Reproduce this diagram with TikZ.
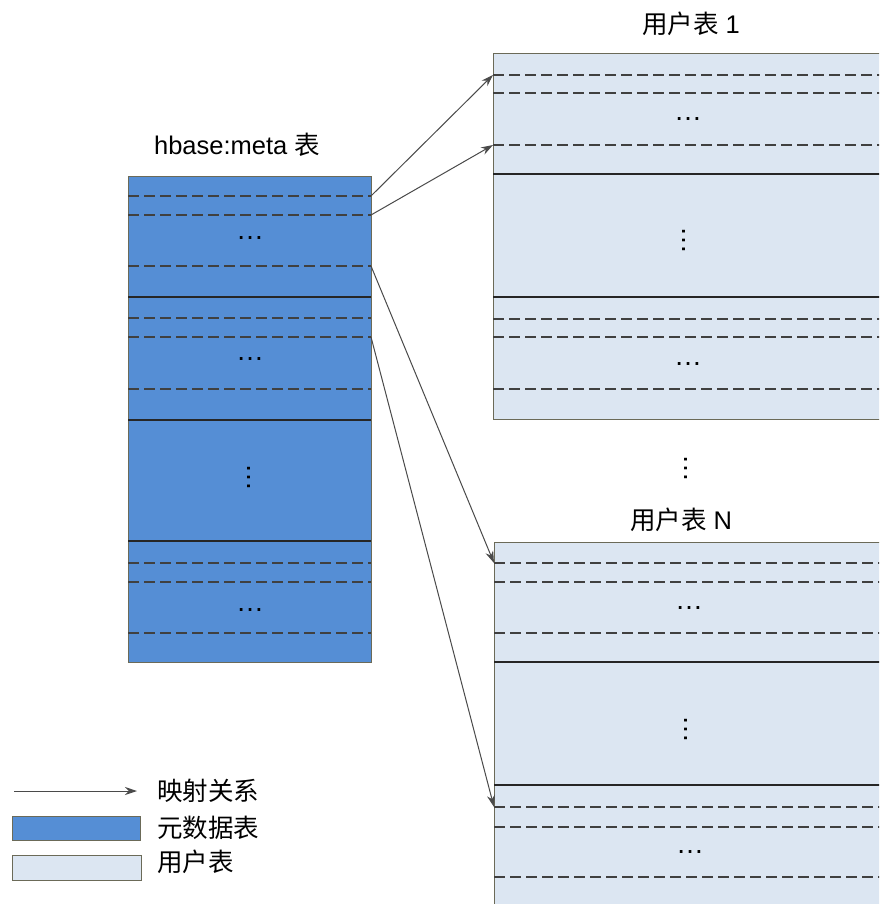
\documentclass[tikz,border=0pt]{standalone}
\usepackage{fontspec}
\setmainfont{Liberation Sans}
\newfontfamily\cjk{Noto Sans CJK SC}
\usetikzlibrary{arrows.meta}
\definecolor{metablue}{HTML}{558ED5}
\definecolor{userblue}{HTML}{DCE6F2}
\definecolor{edgegray}{HTML}{6B6A58}
\definecolor{arrowgray}{HTML}{4A4A4A}
\begin{document}
\begin{tikzpicture}[x=1pt,y=-1pt,
  tab/.style={draw=edgegray, line width=1.1pt, anchor=north west, inner sep=0pt},
  metatab/.style={tab, fill=metablue},
  usertab/.style={tab, fill=userblue},
  sep/.style={line width=1.3pt, draw=black!85},
  dsep/.style={line width=1.3pt, draw=black!75, dash pattern=on 11pt off 5pt},
  map/.style={draw=arrowgray, line width=1pt, -{Stealth[length=12pt,width=8pt]}},
  lbl/.style={font=\fontsize{25.5}{30}\selectfont, inner sep=0pt},
  hdots/.style={font=\fontsize{28}{32}\selectfont, inner sep=0pt, anchor=base},
  vdots/.style={font=\fontsize{28}{32}\selectfont, inner sep=0pt, anchor=base, rotate=90}
]
\clip (0,0) rectangle (879,904);
\fill[white] (0,0) rectangle (879,904);

% ---- hbase:meta table
\node[lbl, anchor=base] (metatitle) at (237,155) {hbase:meta {\cjk 表}};
\node[metatab, minimum width=243pt, minimum height=486pt] (meta) at (128,176) {};
\foreach \yy in {297,420,541} \draw[sep] (128,\yy) -- (371,\yy);
\foreach \yy in {196,215,266,318,337,389,563,582,633} \draw[dsep] (128,\yy) -- (371,\yy);
\node[hdots] (md1) at (250,239) {…};
\node[hdots] (md2) at (250,360) {…};
\node[vdots] (md3) at (250,477) {…};
\node[hdots] (md4) at (250,611) {…};

% ---- user table 1
\node[lbl, anchor=base] (u1title) at (691,34) {{\cjk 用户表} 1};
\node[usertab, minimum width=400pt, minimum height=366pt] (u1) at (493,53) {};
\foreach \yy in {174,297} \draw[sep] (493,\yy) -- (893,\yy);
\foreach \yy in {75,93,145,319,337,389} \draw[dsep] (493,\yy) -- (893,\yy);
\node[hdots] (ud1) at (688,121) {…};
\node[vdots] (ud2) at (685,240) {…};
\node[hdots] (ud3) at (688,365) {…};

% ---- gap dots
\node[vdots] (gap) at (687,468) {…};

% ---- user table N
\node[lbl, anchor=base] (uNtitle) at (681,529) {{\cjk 用户表} N};
\node[usertab, minimum width=400pt, minimum height=378pt] (uN) at (494,542) {};
\foreach \yy in {662,785} \draw[sep] (494,\yy) -- (894,\yy);
\foreach \yy in {563,582,633,807,827,877} \draw[dsep] (494,\yy) -- (894,\yy);
\node[hdots] (nd1) at (689,609) {…};
\node[vdots] (nd2) at (687,729) {…};
\node[hdots] (nd3) at (690,853) {…};

% ---- mapping arrows
\coordinate (a1) at (371,196); \coordinate (b1) at (493,75);
\coordinate (a2) at (371,215); \coordinate (b2) at (493,145);
\coordinate (a3) at (371,266); \coordinate (b3) at (494,563);
\coordinate (a4) at (371,337); \coordinate (b4) at (494,807);
\draw[map] (a1) -- (b1);
\draw[map] (a2) -- (b2);
\draw[map] (a3) -- (b3);
\draw[map] (a4) -- (b4);

% ---- legend
\coordinate (la) at (14,791); \coordinate (lb) at (137,791);
\draw[map] (la) -- (lb);
\node[lbl, anchor=west] (lt1) at (157,791) {\cjk 映射关系};
\node[metatab, minimum width=128pt, minimum height=24pt] (lm) at (12,816) {};
\node[lbl, anchor=west] (lt2) at (157,828) {\cjk 元数据表};
\node[usertab, minimum width=129pt, minimum height=25pt] (lu) at (12,855) {};
\node[lbl, anchor=west] (lt3) at (157,862) {\cjk 用户表};
\end{tikzpicture}
\end{document}
